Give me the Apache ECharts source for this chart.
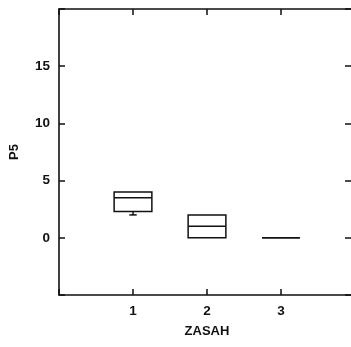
<!DOCTYPE html>
<html>
<head>
<meta charset="utf-8">
<script src="https://cdn.jsdelivr.net/npm/echarts@6/dist/echarts.min.js"></script>
<style>
  html, body { margin: 0; padding: 0; background: #fff; }
  #chart { width: 351px; height: 347px; }
</style>
</head>
<body>
<div id="chart"></div>
<script>
// Five-number summaries of P5 for each ZASAH group
const groups = [1, 2, 3];
const mins = [2, 0, 0];
const q1s = [2.3, 0, 0];
const medians = [3.5, 1, 0];
const q3s = [4, 2, 0];
const maxs = [4, 2, 0];

const xTickLabels = ['1', '2', '3'];
const yTickLabels = ['0', '5', '10', '15'];

const INK = '#111';
const FONT = 'Liberation Sans, Arial, sans-serif';
const BOX_HALF = 0.255;   // half box width, in x-axis units
const CAP_HALF = 0.05;    // half whisker-cap width, in x-axis units

const chart = echarts.init(document.getElementById('chart'));

const inwardTicks = { show: true, inside: true, length: 6, lineStyle: { color: INK, width: 1.5 } };
const axisLine = { show: true, onZero: false, lineStyle: { color: INK, width: 1.6 } };
const textStyle = { color: INK, fontFamily: FONT, fontSize: 13, fontWeight: 'bold' };
const tickText = Object.assign({}, textStyle, { fontSize: 13.5 });

function boxItem(params, api) {
  const x = api.value(0);
  const lo = api.value(1), q1 = api.value(2), med = api.value(3), q3 = api.value(4), hi = api.value(5);
  const cx = api.coord([x, 0])[0];
  const left = api.coord([x - BOX_HALF, 0])[0];
  const right = api.coord([x + BOX_HALF, 0])[0];
  const capL = api.coord([x - CAP_HALF, 0])[0];
  const capR = api.coord([x + CAP_HALF, 0])[0];
  const py = v => api.coord([x, v])[1];
  const style = { stroke: INK, fill: null, lineWidth: 1.5 };
  const children = [];
  children.push({ type: 'rect', shape: { x: left, y: py(q3), width: right - left, height: py(q1) - py(q3) }, style });
  children.push({ type: 'line', shape: { x1: left, y1: py(med), x2: right, y2: py(med) }, style });
  if (lo < q1) {
    children.push({ type: 'line', shape: { x1: cx, y1: py(q1), x2: cx, y2: py(lo) }, style });
    children.push({ type: 'line', shape: { x1: capL, y1: py(lo), x2: capR, y2: py(lo) }, style });
  }
  if (hi > q3) {
    children.push({ type: 'line', shape: { x1: cx, y1: py(q3), x2: cx, y2: py(hi) }, style });
    children.push({ type: 'line', shape: { x1: capL, y1: py(hi), x2: capR, y2: py(hi) }, style });
  }
  return { type: 'group', children };
}

chart.setOption({
  animation: false,
  backgroundColor: '#fff',
  grid: { left: 59, top: 9, width: 296, height: 286, containLabel: false, outerBoundsMode: 'none' },
  xAxis: [
    {
      type: 'value', min: 0, max: 4, interval: 1, position: 'bottom',
      name: 'ZASAH', nameLocation: 'middle', nameGap: 30,
      nameTextStyle: textStyle,
      axisLine, axisTick: inwardTicks, splitLine: { show: false },
      axisLabel: Object.assign({ margin: 9,
        formatter: v => xTickLabels.includes(String(v)) ? String(v) : '' }, tickText)
    },
    {
      type: 'value', min: 0, max: 4, interval: 1, position: 'top',
      axisLine, axisTick: inwardTicks, splitLine: { show: false }, axisLabel: { show: false }
    }
  ],
  yAxis: [
    {
      type: 'value', min: -5, max: 20, interval: 5, position: 'left',
      name: 'P5', nameLocation: 'middle', nameGap: 38, nameRotate: 90,
      nameTextStyle: textStyle,
      axisLine, axisTick: inwardTicks, splitLine: { show: false },
      axisLabel: Object.assign({ margin: 9,
        formatter: v => yTickLabels.includes(String(v)) ? String(v) : '' }, tickText)
    },
    {
      type: 'value', min: -5, max: 20, interval: 5, position: 'right',
      axisLine, splitLine: { show: false }, axisLabel: { show: false },
      axisTick: Object.assign({}, inwardTicks, { length: 10 })
    }
  ],
  series: [{
    type: 'custom',
    xAxisIndex: 0,
    yAxisIndex: 0,
    renderItem: boxItem,
    encode: { x: 0, y: [1, 2, 3, 4, 5] },
    data: groups.map((g, i) => [g, mins[i], q1s[i], medians[i], q3s[i], maxs[i]])
  }]
});
</script>
</body>
</html>
